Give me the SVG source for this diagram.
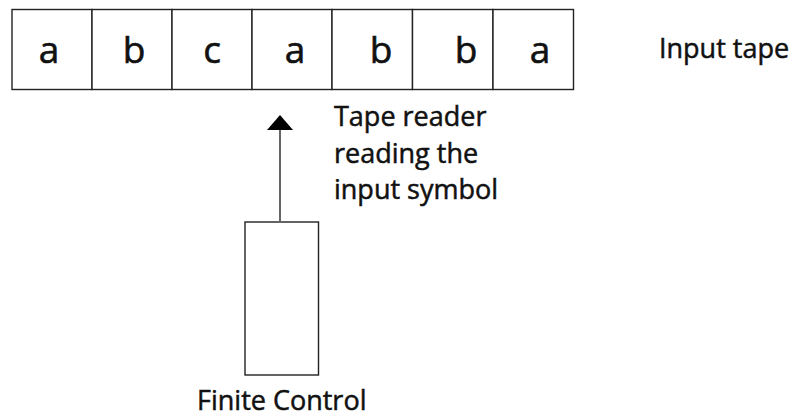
<svg xmlns="http://www.w3.org/2000/svg" width="801" height="419" viewBox="0 0 801 419">
<style>
.cell{fill:#fff;stroke:#222;stroke-width:1.4}
.sym{font-family:"Open Sans","Liberation Sans",sans-serif;font-size:37px;fill:#111;stroke:#111;stroke-width:0.6;text-anchor:middle}
.lbl{font-family:"Open Sans","Liberation Sans",sans-serif;font-size:27px;fill:#111;stroke:#111;stroke-width:0.5}
</style>
<rect width="801" height="419" fill="#fff"/>
<g id="tape">
<rect class="cell" x="12" y="9.5" width="80" height="80"/>
<rect class="cell" x="92" y="9.5" width="80" height="80"/>
<rect class="cell" x="172" y="9.5" width="80" height="80"/>
<rect class="cell" x="252" y="9.5" width="80" height="80"/>
<rect class="cell" x="332" y="9.5" width="80.5" height="80"/>
<rect class="cell" x="412.5" y="9.5" width="80.5" height="80"/>
<rect class="cell" x="493" y="9.5" width="80.5" height="80"/>
<text class="sym" x="49" y="63">a</text>
<text class="sym" x="134" y="63">b</text>
<text class="sym" x="212" y="63">c</text>
<text class="sym" x="295" y="63">a</text>
<text class="sym" x="381" y="63">b</text>
<text class="sym" x="466" y="63">b</text>
<text class="sym" x="540" y="63">a</text>
</g>
<g id="tape-label">
<text class="lbl" x="659" y="58">Input tape</text>
</g>
<g id="finite-control">
<rect class="cell" x="245" y="222" width="73.5" height="153"/>
<text class="lbl" x="197" y="410">Finite Control</text>
</g>
<g id="reader-label">
<text class="lbl" x="334" y="126">Tape reader</text>
<text class="lbl" x="334" y="162.5">reading the</text>
<text class="lbl" x="334" y="199">input symbol</text>
</g>
<g id="connectors">
<line x1="280" y1="222" x2="280" y2="129" stroke="#666" stroke-width="2"/>
<polygon points="280,115 293,130 267,130" fill="#000"/>
</g>
</svg>
